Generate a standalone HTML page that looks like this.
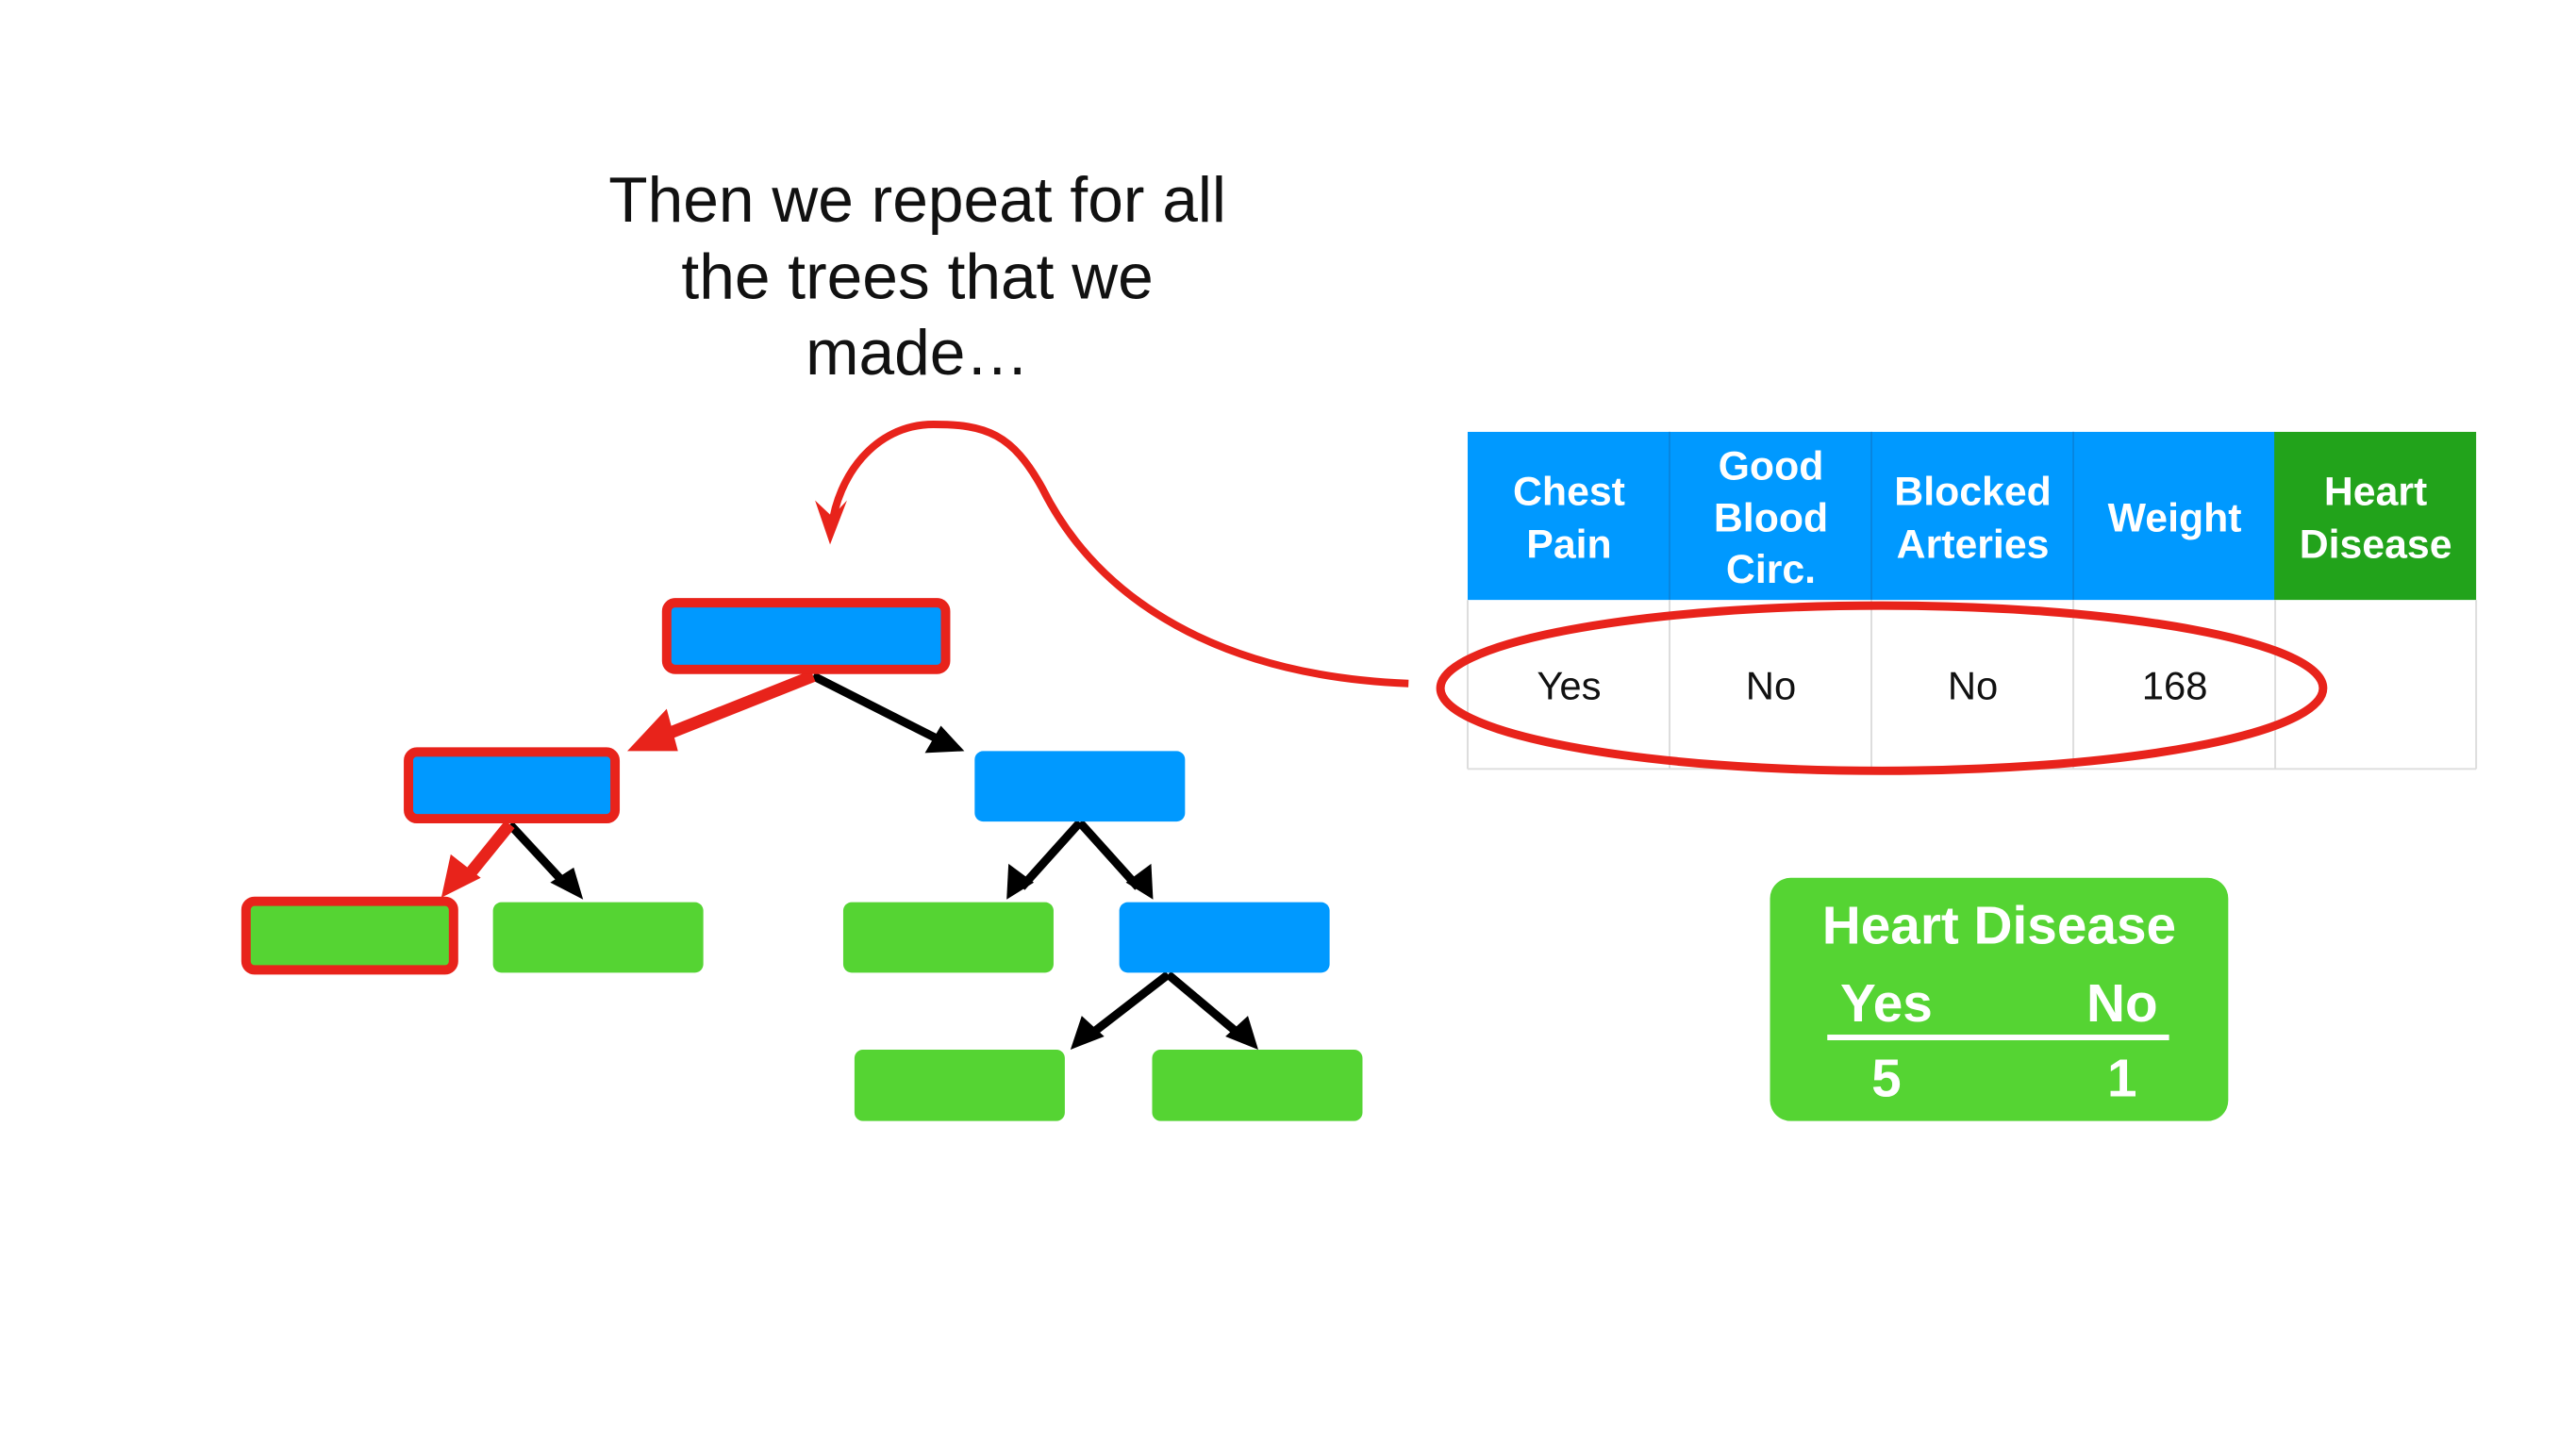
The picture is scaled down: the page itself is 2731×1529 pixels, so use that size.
<!DOCTYPE html>
<html><head><meta charset="utf-8"><style>
html,body{margin:0;padding:0;background:#fff;}
svg{display:block;}
text{font-family:"Liberation Sans",sans-serif;}
</style></head><body>
<svg width="2731" height="1529" viewBox="0 0 2731 1529" xmlns="http://www.w3.org/2000/svg">
<rect width="2731" height="1529" fill="#fff"/>
<g transform="scale(0.9955)">
<!-- title -->
<g font-size="68" fill="#111" text-anchor="middle">
<text x="977" y="236">Then we repeat for all</text>
<text x="977" y="318">the trees that we</text>
<text x="977" y="399">made…</text>
</g>
<!-- tree connectors -->
<g stroke="#000" stroke-width="9" fill="none">
<line x1="866" y1="720" x2="1010" y2="793"/>
<line x1="543" y1="878" x2="605" y2="945"/>
<line x1="1150" y1="876" x2="1088" y2="945"/>
<line x1="1150" y1="876" x2="1212" y2="945"/>
<line x1="1244" y1="1038" x2="1156" y2="1106"/>
<line x1="1244" y1="1038" x2="1325" y2="1106"/>
</g>
<g fill="#000">
<polygon points="1027,800 985,802 1002,773"/>
<polygon points="621,958 586,940 611,924"/>
<polygon points="1072,958 1074,920 1101,940"/>
<polygon points="1228,958 1199,940 1226,920"/>
<polygon points="1140,1118 1152,1082 1176,1104"/>
<polygon points="1340,1118 1305,1104 1329,1082"/>
</g>
<!-- red connectors -->
<g stroke="#e8231b" stroke-width="13" fill="none">
<line x1="866" y1="720" x2="710" y2="782"/>
<line x1="543" y1="878" x2="496" y2="936"/>
</g>
<g fill="#e8231b">
<polygon points="668,800 710,755 722,800"/>
<polygon points="470,956 480,910 512,935"/>
</g>
<!-- boxes -->
<rect x="710" y="642" width="297" height="71" rx="9" fill="#0099ff" stroke="#e8231b" stroke-width="10"/>
<rect x="435" y="801" width="220" height="71" rx="9" fill="#0099ff" stroke="#e8231b" stroke-width="10"/>
<rect x="1038" y="800" width="224" height="75" rx="9" fill="#0099ff"/>
<rect x="262" y="960" width="221" height="73" rx="9" fill="#55d433" stroke="#e8231b" stroke-width="10"/>
<rect x="525" y="961" width="224" height="75" rx="9" fill="#55d433"/>
<rect x="898" y="961" width="224" height="75" rx="9" fill="#55d433"/>
<rect x="1192" y="961" width="224" height="75" rx="9" fill="#0099ff"/>
<rect x="910" y="1118" width="224" height="76" rx="9" fill="#55d433"/>
<rect x="1227" y="1118" width="224" height="76" rx="9" fill="#55d433"/>
<!-- curve -->
<path d="M1500,728 C1300,720 1170,640 1110,520 C1078,462 1050,452 994,452 C930,452 892,510 886,560" stroke="#e8231b" stroke-width="8" fill="none"/>
<polygon points="884,580 868,533 886,550 902,533" fill="#e8231b"/>
<!-- table -->
<rect x="1563" y="460" width="860" height="179" fill="#0099ff"/>
<rect x="2422" y="460" width="215" height="179" fill="#22a31b"/>
<g stroke="#0a7fd6" stroke-width="1.5">
<line x1="1778" y1="460" x2="1778" y2="639"/>
<line x1="1993" y1="460" x2="1993" y2="639"/>
<line x1="2208" y1="460" x2="2208" y2="639"/>
</g>
<g stroke="#ddd" stroke-width="2">
<line x1="1778" y1="639" x2="1778" y2="819"/>
<line x1="1993" y1="639" x2="1993" y2="819"/>
<line x1="2208" y1="639" x2="2208" y2="819"/>
<line x1="2423" y1="639" x2="2423" y2="819"/>
<line x1="2637" y1="639" x2="2637" y2="819"/>
<line x1="1563" y1="639" x2="1563" y2="819"/>
<line x1="1563" y1="819" x2="2637" y2="819"/>
</g>
<g font-size="43" font-weight="bold" fill="#fff" text-anchor="middle">
<text x="1671" y="538">Chest</text><text x="1671" y="594">Pain</text>
<text x="1886" y="511">Good</text><text x="1886" y="566">Blood</text><text x="1886" y="621">Circ.</text>
<text x="2101" y="538">Blocked</text><text x="2101" y="594">Arteries</text>
<text x="2316" y="566">Weight</text>
<text x="2530" y="538">Heart</text><text x="2530" y="594">Disease</text>
</g>
<g font-size="42" fill="#111" text-anchor="middle">
<text x="1671" y="745">Yes</text><text x="1886" y="745">No</text><text x="2101" y="745">No</text><text x="2316" y="745">168</text>
</g>
<ellipse cx="2004" cy="733" rx="470" ry="88" fill="none" stroke="#e8231b" stroke-width="9"/>
<!-- result box -->
<rect x="1885" y="935" width="488" height="259" rx="22" fill="#55d433"/>
<g font-weight="bold" fill="#fff" text-anchor="middle">
<text x="2129" y="1005" font-size="57">Heart Disease</text>
<text x="2009" y="1088" font-size="57">Yes</text>
<text x="2260" y="1088" font-size="57">No</text>
<text x="2009" y="1168" font-size="57">5</text>
<text x="2260" y="1168" font-size="57">1</text>
</g>
<rect x="1946" y="1102" width="364" height="6" fill="#fff"/>
</g>
</svg>
</body></html>
